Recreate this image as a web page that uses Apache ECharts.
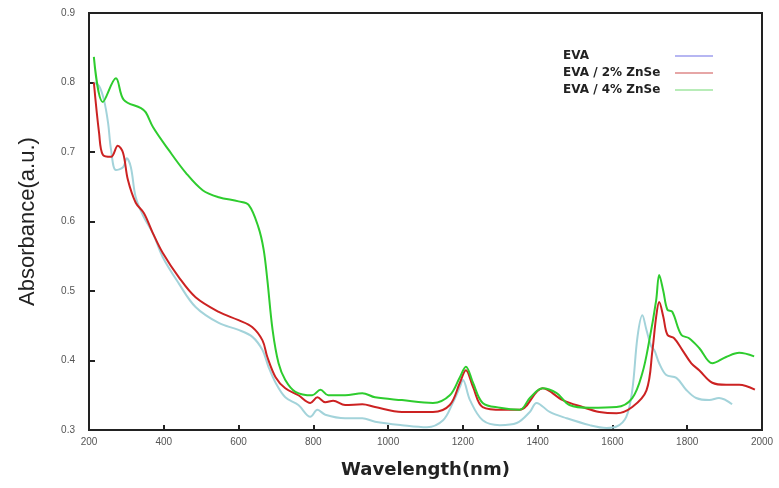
<!DOCTYPE html>
<html><head><meta charset="utf-8">
<script src="https://cdn.jsdelivr.net/npm/echarts@6/dist/echarts.min.js"></script>
<style>html,body{margin:0;padding:0;background:#fff}#c{width:779px;height:488px}</style>
</head><body><div id="c"></div>
<script>
const seriesNames = ['EVA', 'EVA / 2% ZnSe', 'EVA / 4% ZnSe'];
const xTicks = [200, 400, 600, 800, 1000, 1200, 1400, 1600, 1800, 2000];
const yTicks = [0.3, 0.4, 0.5, 0.6, 0.7, 0.8, 0.9];

const evaData = [[213,0.80],[227,0.795],[240,0.775],[251,0.742],[259,0.703],[272,0.674],[291,0.678],[301,0.691],[312,0.678],[325,0.635],[347,0.606],[371,0.583],[397,0.549],[440,0.511],[485,0.477],[547,0.454],[600,0.444],[637,0.434],[664,0.415],[680,0.391],[699,0.368],[725,0.347],[760,0.336],[792,0.319],[811,0.329],[832,0.322],[885,0.317],[931,0.317],[965,0.312],[1037,0.307],[1104,0.304],[1147,0.314],[1173,0.339],[1192,0.362],[1200,0.372],[1219,0.343],[1253,0.314],[1299,0.307],[1344,0.31],[1379,0.326],[1397,0.339],[1432,0.326],[1477,0.317],[1539,0.307],[1584,0.303],[1611,0.305],[1637,0.319],[1653,0.357],[1667,0.434],[1680,0.465],[1691,0.444],[1704,0.42],[1712,0.415],[1725,0.396],[1744,0.379],[1771,0.375],[1797,0.358],[1824,0.346],[1859,0.343],[1885,0.346],[1920,0.337]];

const zn2Data = [[213,0.80],[227,0.727],[237,0.696],[259,0.693],[277,0.709],[291,0.699],[304,0.660],[325,0.627],[347,0.612],[371,0.583],[397,0.555],[440,0.520],[485,0.491],[547,0.470],[600,0.458],[637,0.448],[664,0.429],[677,0.405],[699,0.376],[725,0.36],[760,0.35],[792,0.339],[811,0.347],[832,0.34],[853,0.342],[885,0.336],[931,0.337],[965,0.333],[1037,0.326],[1120,0.326],[1165,0.336],[1192,0.368],[1208,0.386],[1227,0.362],[1253,0.333],[1307,0.329],[1352,0.329],[1413,0.36],[1467,0.343],[1520,0.333],[1565,0.326],[1611,0.324],[1653,0.333],[1691,0.357],[1707,0.415],[1717,0.463],[1725,0.484],[1736,0.463],[1747,0.437],[1765,0.432],[1787,0.415],[1811,0.396],[1832,0.386],[1867,0.368],[1904,0.365],[1939,0.365],[1981,0.358]];

const zn4Data = [[213,0.837],[237,0.772],[272,0.806],[293,0.775],[339,0.763],[352,0.757],[371,0.736],[413,0.703],[459,0.670],[504,0.645],[547,0.635],[600,0.629],[627,0.624],[653,0.592],[667,0.560],[677,0.516],[691,0.444],[707,0.396],[725,0.372],[752,0.355],[797,0.350],[819,0.358],[840,0.350],[885,0.350],[931,0.353],[965,0.347],[1037,0.343],[1120,0.339],[1165,0.35],[1192,0.376],[1208,0.391],[1227,0.368],[1253,0.339],[1299,0.332],[1352,0.329],[1379,0.346],[1413,0.36],[1451,0.353],[1485,0.336],[1539,0.332],[1611,0.333],[1653,0.346],[1680,0.382],[1699,0.43],[1717,0.487],[1725,0.523],[1736,0.50],[1747,0.473],[1760,0.470],[1784,0.437],[1805,0.432],[1832,0.418],[1867,0.396],[1904,0.405],[1939,0.411],[1979,0.406]];

const lineColors = ['#a3d3da', '#cc2222', '#2ecc2e'];
const legendColors = ['#b6b6f2', '#e6a6a6', '#b8ecb8'];

const chart = echarts.init(document.getElementById('c'), null, {renderer: 'canvas'});
const mk = (name, data, color) => ({
  name, type: 'line', data, showSymbol: false, smooth: 0.35,
  lineStyle: {color, width: 2}, itemStyle: {color}, z: 3
});
chart.setOption({
  animation: false,
  backgroundColor: '#fff',
  grid: {left: 89, right: 17, top: 13, bottom: 58, show: true, borderColor: '#222', borderWidth: 2, backgroundColor: 'transparent'},
  legend: {
    orient: 'vertical', left: 558, top: 45, align: 'right', icon: 'rect',
    itemWidth: 38, itemHeight: 2, itemGap: 5,
    formatter: n => '{t|' + n + '}',
    textStyle: {
      fontFamily: 'DejaVu Sans', fontWeight: 'bold', fontSize: 12, color: '#222',
      rich: {t: {width: 107, align: 'left', fontFamily: 'DejaVu Sans', fontWeight: 'bold', fontSize: 12, color: '#222'}}
    },
    data: seriesNames.map((n, i) => ({name: n, itemStyle: {color: legendColors[i]}, lineStyle: {color: legendColors[i]}}))
  },
  xAxis: {
    type: 'value', min: xTicks[0], max: xTicks[xTicks.length - 1], interval: 200,
    name: 'Wavelength(nm)', nameLocation: 'middle', nameGap: 31,
    nameTextStyle: {fontFamily: 'DejaVu Sans', fontWeight: 'bold', fontSize: 18, color: '#222'},
    axisLine: {show: true, lineStyle: {color: '#222', width: 2}},
    axisTick: {show: true, inside: true, length: 5, lineStyle: {color: '#222', width: 2}},
    axisLabel: {fontFamily: 'Liberation Sans', fontSize: 10, color: '#555', margin: 7, formatter: v => String(v)},
    splitLine: {show: false}
  },
  yAxis: {
    type: 'value', min: yTicks[0], max: yTicks[yTicks.length - 1], interval: 0.1,
    name: 'Absorbance(a.u.)', nameLocation: 'middle', nameGap: 50,
    nameTextStyle: {fontFamily: 'Liberation Sans', fontSize: 22, color: '#222'},
    axisLine: {show: true, lineStyle: {color: '#222', width: 2}},
    axisTick: {show: true, inside: true, length: 6, lineStyle: {color: '#222', width: 2}},
    axisLabel: {fontFamily: 'Liberation Sans', fontSize: 10, color: '#555', margin: 14, formatter: v => v.toFixed(1)},
    splitLine: {show: false}
  },
  series: [
    mk(seriesNames[0], evaData, lineColors[0]),
    mk(seriesNames[1], zn2Data, lineColors[1]),
    mk(seriesNames[2], zn4Data, lineColors[2])
  ]
});
</script></body></html>
